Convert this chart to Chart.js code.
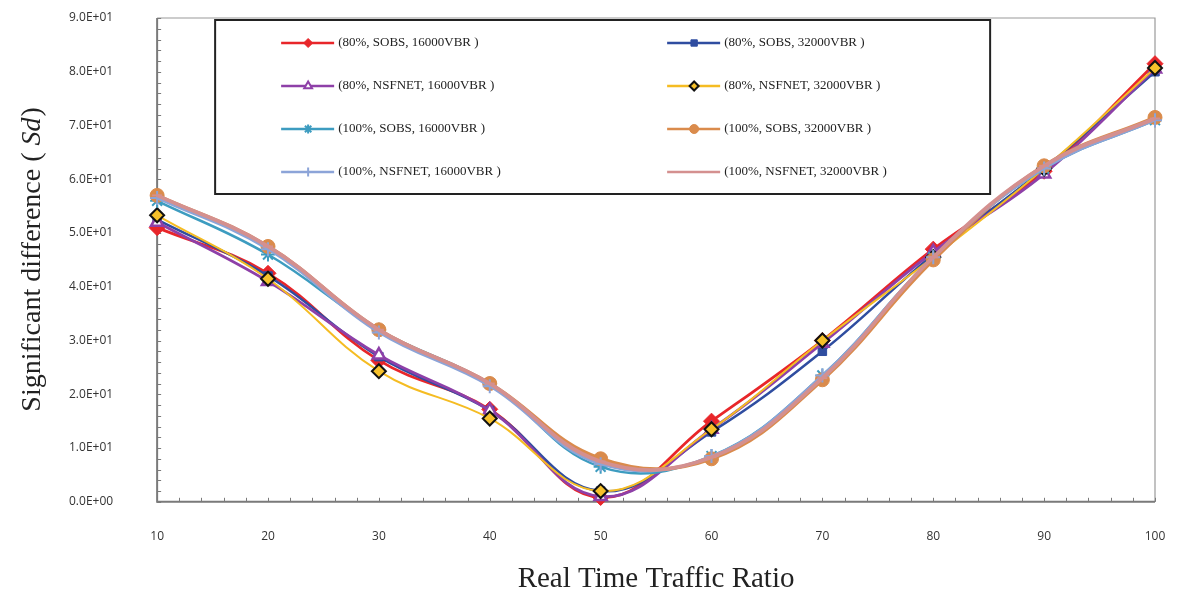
<!DOCTYPE html>
<html>
<head>
<meta charset="utf-8">
<script src="https://cdn.jsdelivr.net/npm/chart.js@4.4.1/dist/chart.umd.min.js"></script>
<style>
  html, body { margin: 0; padding: 0; background: #fff; }
  #wrap { width: 1184px; height: 598px; }
</style>
</head>
<body>
<div id="wrap"><canvas id="myChart" width="1184" height="598"></canvas></div>
<script>
const ratios = [10, 20, 30, 40, 50, 60, 70, 80, 90, 100];

const names = [
  "(80%, SOBS, 16000VBR )",
  "(80%, SOBS, 32000VBR )",
  "(80%, NSFNET, 16000VBR )",
  "(80%, NSFNET, 32000VBR )",
  "(100%, SOBS, 16000VBR )",
  "(100%, SOBS, 32000VBR )",
  "(100%, NSFNET, 16000VBR )",
  "(100%, NSFNET, 32000VBR )"
];

const sobs80_16 = [51.0, 42.5, 26.3, 17.2, 0.8, 15.0, 30.0, 47.0, 61.5, 81.5];
const sobs80_32 = [52.5, 42.0, 27.0, 17.0, 2.0, 13.0, 28.0, 46.0, 62.0, 80.0];
const nsf80_16  = [52.0, 41.0, 27.3, 17.0, 1.0, 13.5, 29.5, 46.5, 61.0, 80.5];
const nsf80_32  = [53.3, 41.5, 24.3, 15.5, 2.0, 13.5, 30.0, 45.5, 62.0, 80.7];
const sobs100_16 = [56.0, 46.0, 32.0, 22.0, 6.5, 8.5, 23.5, 45.5, 62.0, 71.0];
const sobs100_32 = [57.0, 47.5, 32.0, 22.0, 8.0, 8.0, 22.7, 45.0, 62.5, 71.5];
const nsf100_16  = [56.5, 47.0, 31.5, 21.5, 7.0, 8.5, 23.5, 45.5, 62.0, 71.0];
const nsf100_32  = [57.0, 47.5, 32.0, 22.0, 7.5, 8.3, 23.0, 45.5, 62.5, 71.3];

const yTicks = [0, 10, 20, 30, 40, 50, 60, 70, 80, 90];

function sci(v) {
  if (v === 0) return "0.0E+00";
  const e = Math.floor(Math.log10(Math.abs(v)));
  const m = v / Math.pow(10, e);
  return m.toFixed(1) + "E" + (e < 0 ? "-" : "+") + String(Math.abs(e)).padStart(2, "0");
}

// look of each series (Excel style markers)
const styles = [
  { color: "#E8262A", bg: "#E8262A", point: "rectRot", r: 8, bw: 1, lw: 2.8 },
  { color: "#2F4DA0", bg: "#2F4DA0", point: "rect", r: 6, bw: 1, lw: 2.5 },
  { color: "#8E40A8", bg: "#ffffff", point: "triangle", r: 7, bw: 2.5, lw: 2.8 },
  { color: "#F5BC22", bg: "#F6C12B", point: "rectRot", r: 7, bw: 2, lw: 2, pb: "#111111" },
  { color: "#3D9CC0", bg: "#3D9CC0", point: "star", r: 7, bw: 2, lw: 2.5 },
  { color: "#DA8B4C", bg: "#DA8B4C", point: "circle", r: 7, bw: 1, lw: 3.8 },
  { color: "#8CA4D8", bg: "#8CA4D8", point: "cross", r: 7, bw: 2, lw: 2.5 },
  { color: "#D4908F", bg: "#D4908F", point: "line", r: 5, bw: 2, lw: 3.8 }
];
const series = [sobs80_16, sobs80_32, nsf80_16, nsf80_32, sobs100_16, sobs100_32, nsf100_16, nsf100_32];

const datasets = series.map((d, i) => ({
  label: names[i],
  data: d,
  borderColor: styles[i].color,
  backgroundColor: styles[i].bg,
  borderWidth: styles[i].lw,
  pointStyle: styles[i].point,
  pointRadius: styles[i].r,
  pointBackgroundColor: styles[i].bg,
  pointBorderColor: styles[i].pb || styles[i].color,
  pointBorderWidth: styles[i].bw,
  tension: 0.4,
  fill: false,
  clip: false,
  order: 7 - i
}));

// frame, inward minor ticks, y title with italic Sd, boxed legend
const decor = {
  id: "decor",
  beforeDatasetsDraw(chart) {
    const ctx = chart.ctx, a = chart.chartArea;
    const xs = chart.scales.x, ys = chart.scales.y;
    ctx.save();
    ctx.strokeStyle = "#9a9a9a";
    ctx.lineWidth = 1.2;
    ctx.beginPath();
    ctx.moveTo(a.left, a.top); ctx.lineTo(a.right, a.top); ctx.lineTo(a.right, a.bottom);
    ctx.stroke();
    ctx.strokeStyle = "#7a7a7a";
    ctx.lineWidth = 2;
    ctx.beginPath();
    ctx.moveTo(a.left, a.top); ctx.lineTo(a.left, a.bottom); ctx.lineTo(a.right, a.bottom);
    ctx.stroke();
    ctx.lineWidth = 1;
    ctx.beginPath();
    for (let v = 0; v <= 90; v += 2) {
      const y = Math.round(ys.getPixelForValue(v)) + 0.5;
      ctx.moveTo(a.left, y); ctx.lineTo(a.left + 4, y);
    }
    for (let k = 0; k <= (ratios.length - 1) * 5; k++) {
      const x = Math.round(xs.getPixelForValue(k / 5)) + 0.5;
      ctx.moveTo(x, a.bottom); ctx.lineTo(x, a.bottom - 4);
    }
    ctx.stroke();
    ctx.restore();
  },
  afterDraw(chart) {
    const ctx = chart.ctx, a = chart.chartArea;
    // y axis title
    ctx.save();
    ctx.fillStyle = "#222";
    ctx.translate(33, (a.top + a.bottom) / 2);
    ctx.rotate(-Math.PI / 2);
    ctx.textBaseline = "middle";
    const f1 = "28px 'Liberation Serif'", f2 = "italic 28px 'Liberation Serif'";
    const p1 = "Significant difference ( ", p2 = "Sd", p3 = ")";
    ctx.font = f1; const w1 = ctx.measureText(p1).width, w3 = ctx.measureText(p3).width;
    ctx.font = f2; const w2 = ctx.measureText(p2).width;
    let x0 = -(w1 + w2 + w3) / 2;
    ctx.textAlign = "left";
    ctx.font = f1; ctx.fillText(p1, x0, 0);
    ctx.font = f2; ctx.fillText(p2, x0 + w1, 0);
    ctx.font = f1; ctx.fillText(p3, x0 + w1 + w2 + 1, 0);
    ctx.restore();

    // legend box
    ctx.save();
    const bx = a.left + 58, by = a.top + 2, bw = 775, bh = 174;
    ctx.fillStyle = "#fff";
    ctx.fillRect(bx, by, bw, bh);
    ctx.strokeStyle = "#222";
    ctx.lineWidth = 2;
    ctx.strokeRect(bx, by, bw, bh);
    ctx.font = "13px 'Liberation Serif'";
    ctx.textBaseline = "middle";
    ctx.textAlign = "left";
    const cols = [bx + 66, bx + 452];
    for (let i = 0; i < names.length; i++) {
      const st = styles[i];
      const lx = cols[i % 2], ly = by + 23 + Math.floor(i / 2) * 43;
      ctx.strokeStyle = st.color;
      ctx.lineWidth = 2.5;
      ctx.beginPath(); ctx.moveTo(lx, ly); ctx.lineTo(lx + 53, ly); ctx.stroke();
      ctx.fillStyle = st.bg;
      ctx.strokeStyle = st.pb || st.color;
      ctx.lineWidth = Math.min(st.bw, 2);
      Chart.helpers.drawPoint(ctx, { pointStyle: st.point, radius: 4.5, rotation: 0, borderWidth: ctx.lineWidth }, lx + 27, ly);
      ctx.fillStyle = "#222";
      ctx.fillText(names[i], lx + 57, ly);
    }
    ctx.restore();
  }
};

new Chart("myChart", {
  type: "line",
  data: { labels: ratios, datasets: datasets },
  options: {
    responsive: false,
    animation: false,
    layout: { padding: { left: 65, right: 29, top: 18, bottom: 1 } },
    plugins: {
      legend: { display: false },
      tooltip: { enabled: false }
    },
    scales: {
      x: {
        type: "category",
        offset: false,
        grid: { display: false, drawTicks: true, tickLength: 24 },
        border: { display: false },
        ticks: { padding: 4, color: "#333", font: { family: "Open Sans", size: 12 }, maxRotation: 0 },
        title: {
          display: true,
          text: "Real Time Traffic Ratio",
          color: "#222",
          font: { family: "Liberation Serif", size: 29 },
          padding: { top: 14, bottom: 0 }
        }
      },
      y: {
        min: 0,
        max: 90,
        afterBuildTicks: (s) => { s.ticks = yTicks.map(v => ({ value: v })); },
        grid: { display: false, drawTicks: true, tickLength: 40 },
        border: { display: false },
        ticks: {
          padding: 4,
          color: "#333",
          font: { family: "Open Sans", size: 12 },
          callback: (v) => sci(v)
        }
      }
    }
  },
  plugins: [decor]
});
</script>
</body>
</html>
